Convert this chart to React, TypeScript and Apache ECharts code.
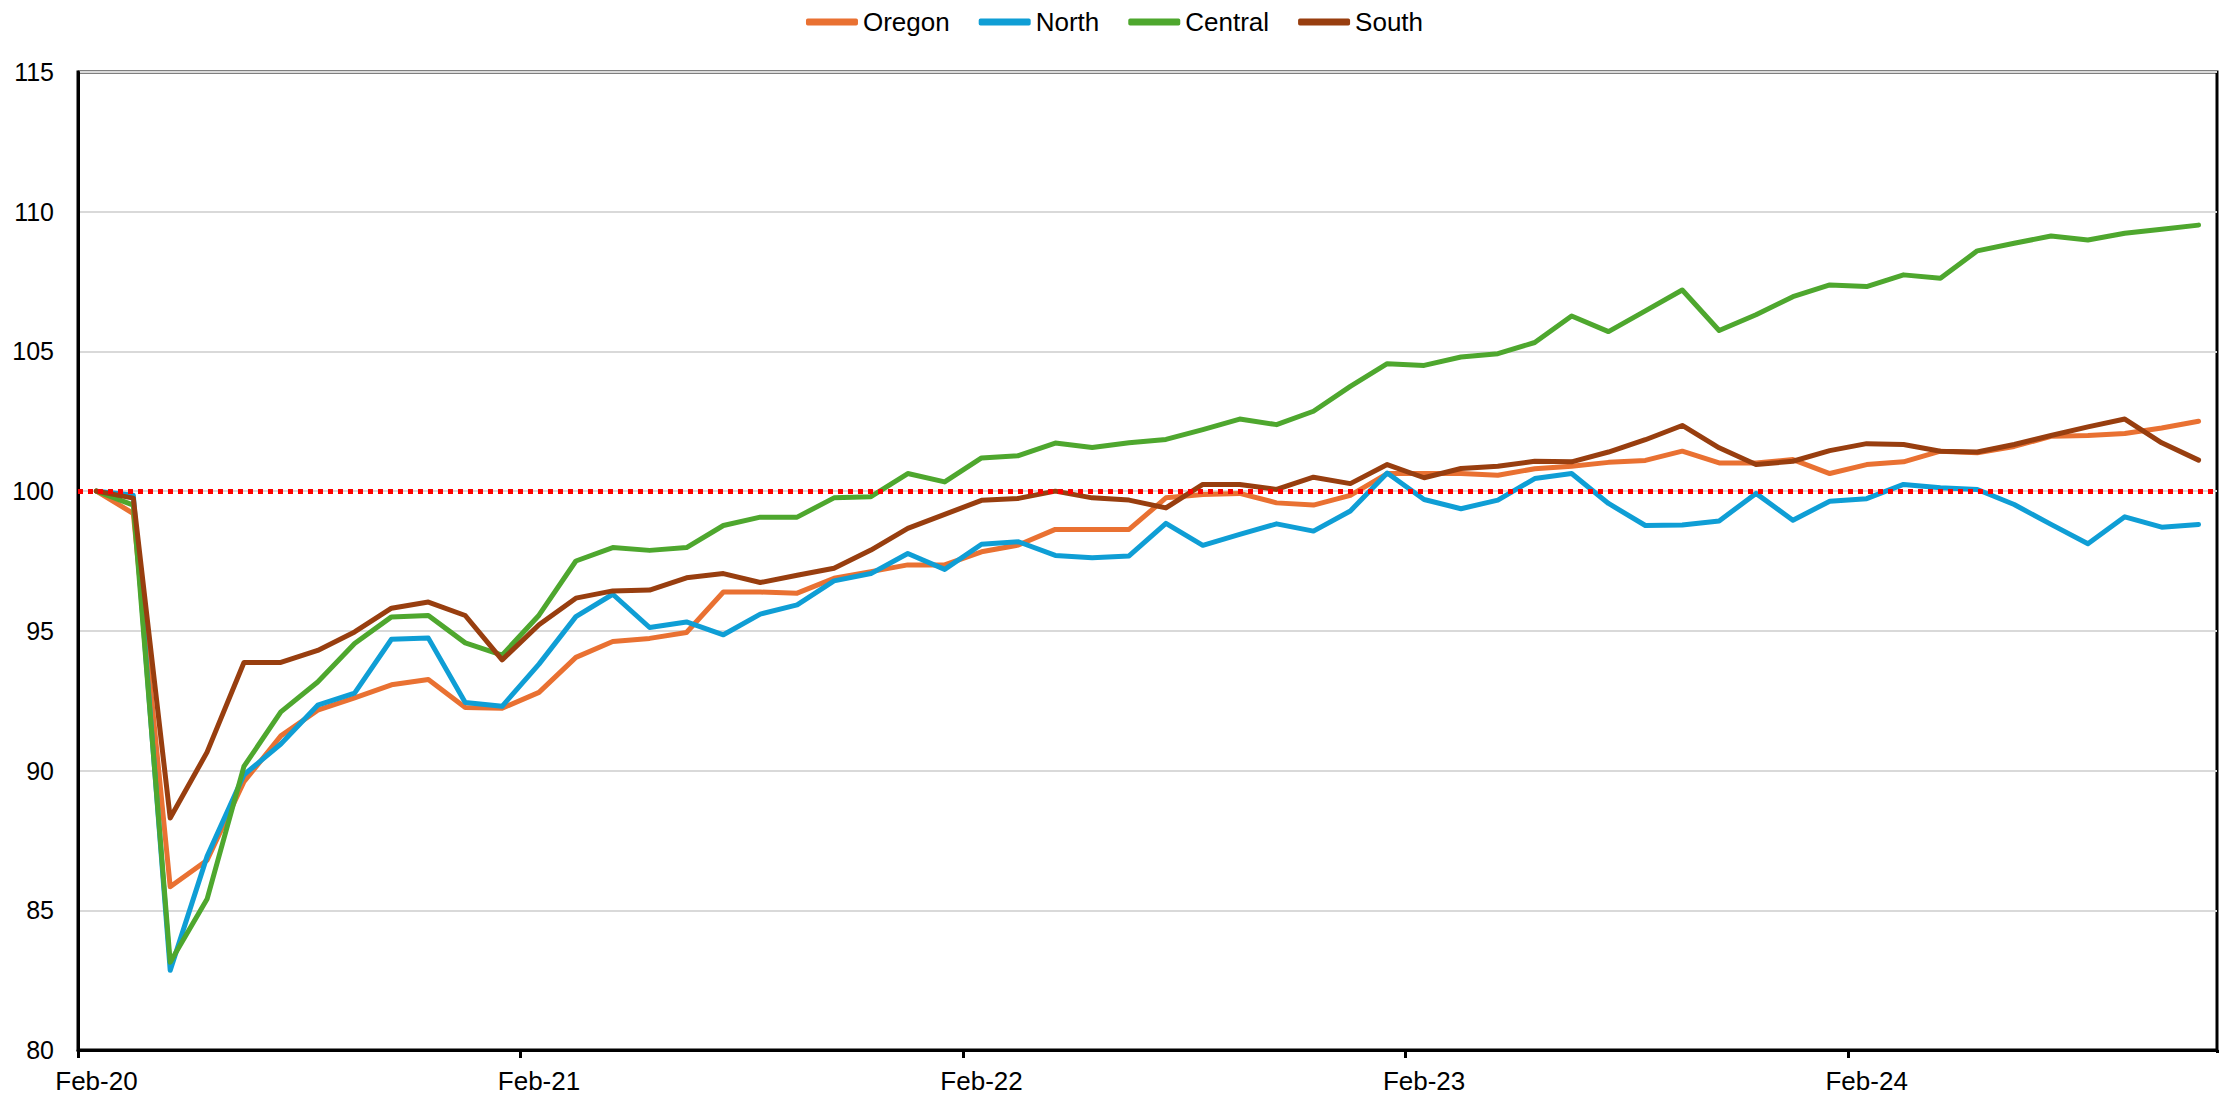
import React, { useEffect, useRef } from "react";
import * as echarts from "echarts";

const categories: string[] = [
  "Feb-20", "Mar-20", "Apr-20", "May-20", "Jun-20", "Jul-20", "Aug-20", "Sep-20", "Oct-20", "Nov-20", "Dec-20", "Jan-21",
  "Feb-21", "Mar-21", "Apr-21", "May-21", "Jun-21", "Jul-21", "Aug-21", "Sep-21", "Oct-21", "Nov-21", "Dec-21", "Jan-22",
  "Feb-22", "Mar-22", "Apr-22", "May-22", "Jun-22", "Jul-22", "Aug-22", "Sep-22", "Oct-22", "Nov-22", "Dec-22", "Jan-23",
  "Feb-23", "Mar-23", "Apr-23", "May-23", "Jun-23", "Jul-23", "Aug-23", "Sep-23", "Oct-23", "Nov-23", "Dec-23", "Jan-24",
  "Feb-24", "Mar-24", "Apr-24", "May-24", "Jun-24", "Jul-24", "Aug-24", "Sep-24", "Oct-24", "Nov-24",
];

const oregon: number[] = [
  100, 99.2, 85.84, 86.79, 89.6, 91.24, 92.16, 92.6, 93.07, 93.26,
  92.26, 92.23, 92.8, 94.05, 94.62, 94.73, 94.94, 96.39, 96.39, 96.35,
  96.88, 97.12, 97.36, 97.36, 97.83, 98.07, 98.63, 98.63, 98.63, 99.76,
  99.88, 99.92, 99.58, 99.5, 99.85, 100.63, 100.63, 100.63, 100.57, 100.8,
  100.89, 101.03, 101.1, 101.43, 101.01, 101.01, 101.13, 100.63, 100.95, 101.05,
  101.43, 101.37, 101.6, 101.96, 101.99, 102.06, 102.26, 102.5,
];

const north: number[] = [
  100, 99.85, 82.85, 86.93, 89.85, 90.95, 92.34, 92.77, 94.7, 94.74,
  92.44, 92.3, 93.81, 95.51, 96.31, 95.12, 95.32, 94.86, 95.6, 95.93,
  96.79, 97.05, 97.77, 97.2, 98.1, 98.19, 97.7, 97.62, 97.68, 98.85,
  98.06, 98.45, 98.83, 98.57, 99.29, 100.65, 99.7, 99.37, 99.68, 100.45,
  100.63, 99.56, 98.77, 98.79, 98.93, 99.92, 98.96, 99.64, 99.73, 100.24,
  100.12, 100.06, 99.52, 98.81, 98.12, 99.08, 98.71, 98.81,
];

const central: number[] = [
  100, 99.5, 83.14, 85.4, 90.15, 92.1, 93.17, 94.55, 95.5, 95.55,
  94.57, 94.13, 95.56, 97.5, 97.98, 97.88, 97.98, 98.77, 99.07, 99.07,
  99.76, 99.8, 100.63, 100.33, 101.19, 101.27, 101.72, 101.56, 101.73, 101.85,
  102.2, 102.58, 102.38, 102.86, 103.75, 104.56, 104.5, 104.8, 104.92, 105.32,
  106.27, 105.71, 106.45, 107.2, 105.75, 106.31, 106.96, 107.38, 107.32, 107.74,
  107.62, 108.6, 108.87, 109.13, 108.99, 109.23, 109.37, 109.52,
];

const south: number[] = [
  100, 99.75, 88.3, 90.66, 93.87, 93.87, 94.3, 94.96, 95.81, 96.03,
  95.55, 93.96, 95.22, 96.17, 96.43, 96.46, 96.9, 97.05, 96.73, 96.99,
  97.24, 97.89, 98.67, 99.17, 99.67, 99.74, 100.0, 99.76, 99.68, 99.4,
  100.24, 100.24, 100.06, 100.5, 100.27, 100.95, 100.48, 100.81, 100.89, 101.07,
  101.05, 101.4, 101.84, 102.35, 101.55, 100.95, 101.07, 101.45, 101.7, 101.67,
  101.43, 101.4, 101.67, 101.99, 102.3, 102.58, 101.73, 101.11,
];

const seriesNames = ["Oregon", "North", "Central", "South"];
const seriesColors = ["#E97132", "#0F9ED5", "#4EA72E", "#983E0F"];
const baselineValue = 100;

const FONT = "'Liberation Sans', Arial, sans-serif";

export default function App() {
  const ref = useRef<HTMLDivElement>(null);

  useEffect(() => {
    document.body.style.margin = "0";
    if (!ref.current) return;
    const chart = echarts.init(ref.current, undefined, { renderer: "svg" });
    const dataSets = [oregon, north, central, south];

    const series: any[] = dataSets.map((d, i) => ({
      name: seriesNames[i],
      type: "line",
      data: d,
      symbol: "none",
      showSymbol: false,
      color: seriesColors[i],
      lineStyle: { width: 5, color: seriesColors[i], join: "round", cap: "round" },
      emphasis: { disabled: true },
    }));
    series[3].markLine = {
      silent: true,
      symbol: ["none", "none"],
      label: { show: false },
      lineStyle: { color: "#FF0000", width: 5, type: [5, 5], cap: "butt" },
      data: [{ yAxis: baselineValue }],
      z: 10,
    };

    chart.setOption({
      animation: false,
      textStyle: { fontFamily: FONT },
      legend: {
        show: true,
        top: 2,
        left: "center",
        icon: "roundRect",
        itemWidth: 52,
        itemHeight: 7,
        itemGap: 29,
        textStyle: { fontSize: 26, color: "#000", fontFamily: FONT, lineHeight: 30 },
        data: seriesNames,
      },
      grid: {
        left: 78,
        right: 12,
        top: 72,
        bottom: 52,
        show: true,
        borderColor: "#000",
        borderWidth: 3,
        containLabel: false,
      },
      graphic: [
        {
          type: "rect",
          shape: { x: 2208, y: 1053, width: 21, height: 12 },
          style: { fill: "#fff" },
          z: 100,
          silent: true,
        },
      ],
      xAxis: {
        type: "category",
        data: categories,
        boundaryGap: true,
        axisLine: { show: true, lineStyle: { color: "#000", width: 3 } },
        axisTick: { show: true, interval: 11, length: 8, lineStyle: { color: "#000", width: 3 } },
        axisLabel: { interval: 11, fontSize: 26, color: "#000", margin: 18, fontFamily: FONT },
        splitLine: { show: false },
      },
      yAxis: {
        type: "value",
        min: 80,
        max: 115,
        interval: 5,
        axisLine: { show: true, lineStyle: { color: "#000", width: 3 } },
        axisTick: { show: false },
        axisLabel: { fontSize: 25, color: "#000", margin: 24, fontFamily: FONT },
        splitLine: { show: true, lineStyle: { color: "#D9D9D9", width: 2 } },
      },
      series,
    });

    return () => chart.dispose();
  }, []);

  return <div ref={ref} style={{ width: 2229, height: 1102 }} />;
}
